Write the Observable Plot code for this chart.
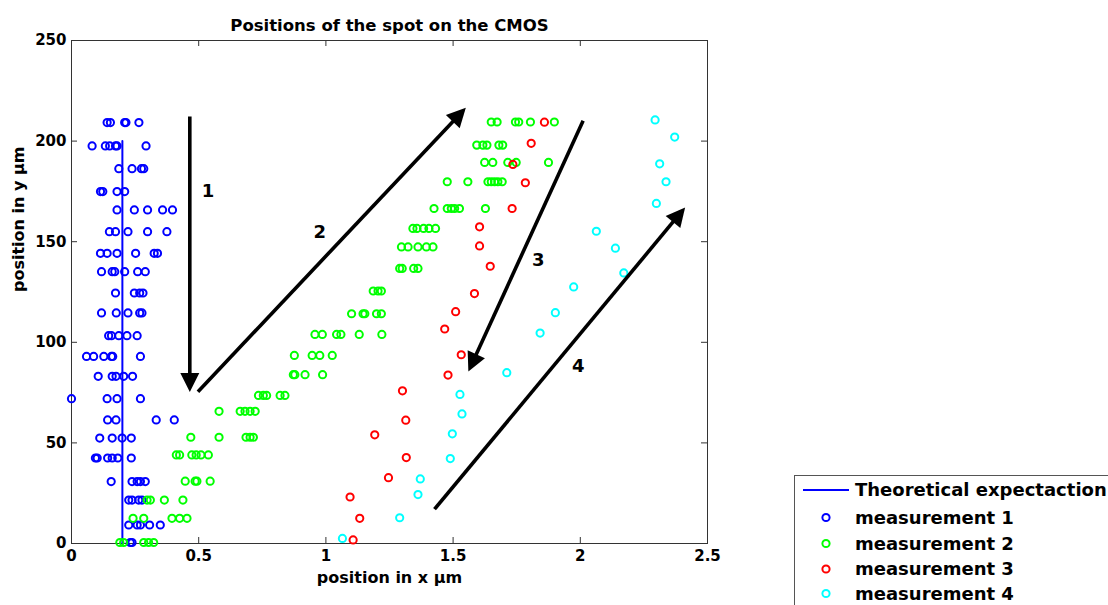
<!DOCTYPE html>
<html><head><meta charset="utf-8">
<script src="https://cdn.jsdelivr.net/npm/d3@7"></script>
<script src="https://cdn.jsdelivr.net/npm/@observablehq/plot@0.6"></script>
<style>
body{margin:0;background:#fff;}
#wrap{position:relative;width:1108px;height:605px;overflow:hidden;font-family:"DejaVu Sans",sans-serif;font-weight:bold;}
#legend{position:absolute;left:794px;top:475px;width:400px;height:200px;border:1px solid #555;background:#fff;}
</style></head><body><div id="wrap"><div id="chart"></div><div id="legend"></div></div>
<script>
// ---- data ----
const titleText = "Positions of the spot on the CMOS";
const xLabel = "position in x \u03bcm";
const yLabel = "position in y \u03bcm";
const xTicks = [0, 0.5, 1, 1.5, 2, 2.5];
const yTicks = [0, 50, 100, 150, 200, 250];

const theoryX = [0.2, 0.2];
const theoryY = [0, 200];

// measurement 1 (rows of equal y)
const m1RowY = [209.2, 197.6, 186.3, 174.9, 165.8, 155.0, 144.2, 135.1, 124.5, 114.6, 103.3, 93.0, 83.1, 72.0, 61.4, 52.4, 42.5, 30.8, 21.6, 9.2, 0.5];
const m1RowX = [
  [0.140, 0.153, 0.209, 0.214, 0.265],
  [0.081, 0.133, 0.150, 0.173, 0.179, 0.293],
  [0.186, 0.238, 0.275, 0.284],
  [0.114, 0.123, 0.179, 0.209],
  [0.179, 0.247, 0.299, 0.358, 0.397],
  [0.149, 0.173, 0.222, 0.299, 0.375],
  [0.114, 0.140, 0.179, 0.252, 0.325, 0.338],
  [0.118, 0.160, 0.170, 0.209, 0.260, 0.290],
  [0.173, 0.247, 0.268, 0.281],
  [0.118, 0.176, 0.222, 0.268, 0.277],
  [0.146, 0.157, 0.186, 0.218, 0.258],
  [0.059, 0.087, 0.127, 0.157, 0.162, 0.271],
  [0.105, 0.160, 0.175, 0.205, 0.240],
  [0.000, 0.140, 0.179, 0.271],
  [0.142, 0.175, 0.333, 0.404],
  [0.111, 0.160, 0.199, 0.235],
  [0.094, 0.101, 0.142, 0.160, 0.182, 0.235],
  [0.156, 0.238, 0.258, 0.271, 0.290],
  [0.225, 0.238, 0.264, 0.277],
  [0.225, 0.258, 0.271, 0.307, 0.349],
  [0.231, 0.238]
];

// measurement 2 (rows of equal y)
const m2RowY = [209.5, 198.0, 189.4, 179.8, 166.5, 156.6, 147.4, 136.7, 125.5, 114.2, 103.9, 93.5, 83.9, 73.6, 65.7, 52.8, 44.0, 31.0, 21.6, 12.5, 0.5];
const m2RowX = [
  [1.650, 1.673, 1.745, 1.758, 1.804, 1.898],
  [1.593, 1.617, 1.633, 1.680, 1.695],
  [1.624, 1.656, 1.715, 1.748, 1.875],
  [1.477, 1.558, 1.637, 1.650, 1.663, 1.676, 1.693],
  [1.425, 1.477, 1.493, 1.506, 1.525, 1.627],
  [1.342, 1.358, 1.384, 1.405, 1.431],
  [1.297, 1.323, 1.362, 1.395, 1.421],
  [1.290, 1.300, 1.345, 1.362],
  [1.186, 1.205, 1.218],
  [1.101, 1.146, 1.153, 1.199, 1.218],
  [0.957, 0.986, 1.042, 1.059, 1.131, 1.220],
  [0.876, 0.946, 0.976, 1.025],
  [0.872, 0.878, 0.918, 0.987],
  [0.735, 0.754, 0.767, 0.820, 0.839],
  [0.580, 0.663, 0.682, 0.702, 0.722],
  [0.469, 0.580, 0.686, 0.702, 0.715],
  [0.412, 0.425, 0.473, 0.490, 0.509, 0.538],
  [0.447, 0.486, 0.493, 0.545],
  [0.297, 0.310, 0.365, 0.438],
  [0.242, 0.284, 0.395, 0.425, 0.454],
  [0.190, 0.205, 0.284, 0.303, 0.323]
];

// measurement 3
const m3X = [1.859, 1.807, 1.735, 1.784, 1.732, 1.604, 1.604, 1.646, 1.584, 1.510, 1.467, 1.532, 1.480, 1.301, 1.314, 1.192, 1.316, 1.246, 1.095, 1.133, 1.107];
const m3Y = [209.4, 198.9, 188.4, 179.3, 166.5, 157.4, 147.9, 137.8, 124.2, 115.2, 106.6, 93.8, 83.7, 75.9, 61.3, 54.0, 42.7, 32.7, 23.1, 12.5, 1.8];

// measurement 4
const m4X = [2.294, 2.371, 2.312, 2.337, 2.299, 2.063, 2.138, 2.171, 1.974, 1.902, 1.842, 1.711, 1.527, 1.535, 1.497, 1.489, 1.371, 1.362, 1.290, 1.065];
const m4Y = [210.5, 202.0, 188.7, 179.8, 169.0, 155.2, 146.8, 134.5, 127.5, 114.7, 104.6, 84.9, 74.1, 64.4, 54.5, 42.2, 32.1, 24.3, 12.8, 2.5];

// annotation arrows (data coordinates)
const arrowX1 = [0.467, 0.499, 2.013, 1.429];
const arrowY1 = [212.0, 75.2, 209.9, 16.8];
const arrowX2 = [0.467, 1.552, 1.562, 2.414];
const arrowY2 = [75.0, 216.3, 85.2, 166.8];
const arrowLabelX = [0.537, 0.976, 1.835, 1.992];
const arrowLabelY = [175.0, 154.7, 140.7, 88.0];
const arrowLabelText = ["1", "2", "3", "4"];

const seriesNames = ["Theoretical expectaction", "measurement 1", "measurement 2", "measurement 3", "measurement 4"];
const seriesColors = ["#0000ff", "#0000ff", "#00ff00", "#ff0000", "#00ffff"];

// ---- build tables ----
const rowsToPoints = (ys, xs) => ys.flatMap((y, i) => xs[i].map(x => ({x, y})));
const m1 = rowsToPoints(m1RowY, m1RowX);
const m2 = rowsToPoints(m2RowY, m2RowX);
const m3 = m3X.map((x, i) => ({x, y: m3Y[i]}));
const m4 = m4X.map((x, i) => ({x, y: m4Y[i]}));
const theory = theoryX.map((x, i) => ({x, y: theoryY[i]}));
const arrowLabels = arrowLabelText.map((t, i) => ({x: arrowLabelX[i], y: arrowLabelY[i], t}));

const W = 1108, H = 605, mL = 71, mR = 401, mT = 40, mB = 62;
const fw = W - mL - mR, fh = H - mT - mB;
const tickLen = 6;

function arrowMark(index, scales) {
  const {x, y} = scales;
  const g = d3.create("svg:g");
  for (let i = 0; i < arrowX1.length; i++) {
    const x1 = x(arrowX1[i]), y1 = y(arrowY1[i]), x2 = x(arrowX2[i]), y2 = y(arrowY2[i]);
    const dx = x2 - x1, dy = y2 - y1, L = Math.hypot(dx, dy), ux = dx / L, uy = dy / L;
    const hl = 19, hw = 9.5;
    const bx = x2 - ux * hl, by = y2 - uy * hl;
    g.append("line").attr("x1", x1).attr("y1", y1).attr("x2", bx + ux * 3).attr("y2", by + uy * 3)
      .attr("stroke", "#000").attr("stroke-width", 3.6);
    g.append("polygon")
      .attr("points", [[x2, y2], [bx - uy * hw, by + ux * hw], [bx + uy * hw, by - ux * hw]].map(p => p.join(",")).join(" "))
      .attr("fill", "#000");
  }
  return g.node();
}

const dotOpts = (c) => ({x: "x", y: "y", r: 3.6, stroke: c, strokeWidth: 2, fill: "none"});

const chart = Plot.plot({
  width: W, height: H,
  marginLeft: mL, marginRight: mR, marginTop: mT, marginBottom: mB,
  x: {domain: [0, 2.5], axis: null},
  y: {domain: [0, 250], axis: null},
  style: {fontFamily: "DejaVu Sans", fontWeight: "bold", fontSize: "15px", color: "#000", background: "#fff", overflow: "visible"},
  marks: [
    Plot.frame({stroke: "#333", strokeWidth: 1}),
    Plot.ruleX(xTicks, {x: d => d, insetTop: fh - tickLen, stroke: "#333"}),
    Plot.ruleX(xTicks, {x: d => d, insetBottom: fh - tickLen, stroke: "#333"}),
    Plot.ruleY(yTicks, {y: d => d, insetRight: fw - tickLen, stroke: "#333"}),
    Plot.ruleY(yTicks, {y: d => d, insetLeft: fw - tickLen, stroke: "#333"}),
    Plot.text(xTicks, {x: d => d, frameAnchor: "bottom", dy: 17, text: d => String(d), fontSize: 15, fill: "#000"}),
    Plot.text(yTicks, {y: d => d, frameAnchor: "left", dx: -5, textAnchor: "end", text: d => String(d), fontSize: 15, fill: "#000"}),
    Plot.text([titleText], {frameAnchor: "top", dy: -21, text: d => d, fontSize: 16.5, fill: "#000"}),
    Plot.text([xLabel], {frameAnchor: "bottom", dy: 39, text: d => d, fontSize: 16, fill: "#000"}),
    Plot.text([yLabel], {frameAnchor: "left", dx: -53, rotate: -90, text: d => d, fontSize: 16, fill: "#000"}),
    Plot.line(theory, {x: "x", y: "y", stroke: seriesColors[0], strokeWidth: 2}),
    Plot.dot(m1, dotOpts(seriesColors[1])),
    Plot.dot(m2, dotOpts(seriesColors[2])),
    Plot.dot(m3, dotOpts(seriesColors[3])),
    Plot.dot(m4, dotOpts(seriesColors[4])),
    arrowMark,
    Plot.text(arrowLabels, {x: "x", y: "y", text: "t", fontSize: 18, fill: "#000"})
  ]
});
document.getElementById("chart").appendChild(chart);

// ---- legend ----
const lg = d3.select("#legend").append("svg").attr("width", 400).attr("height", 200)
  .style("font-family", "DejaVu Sans").style("font-weight", "bold");
const rowY = [14, 41.5, 67.5, 93, 117.5];
seriesNames.forEach((name, i) => {
  if (i === 0) {
    lg.append("line").attr("x1", 8).attr("x2", 54).attr("y1", rowY[i]).attr("y2", rowY[i])
      .attr("stroke", seriesColors[i]).attr("stroke-width", 2);
  } else {
    lg.append("circle").attr("cx", 31).attr("cy", rowY[i]).attr("r", 3.6)
      .attr("fill", "none").attr("stroke", seriesColors[i]).attr("stroke-width", 2);
  }
  lg.append("text").attr("x", 60).attr("y", rowY[i]).attr("dy", "0.35em")
    .attr("font-size", 18).attr("fill", "#000").text(name);
});
</script></body></html>
